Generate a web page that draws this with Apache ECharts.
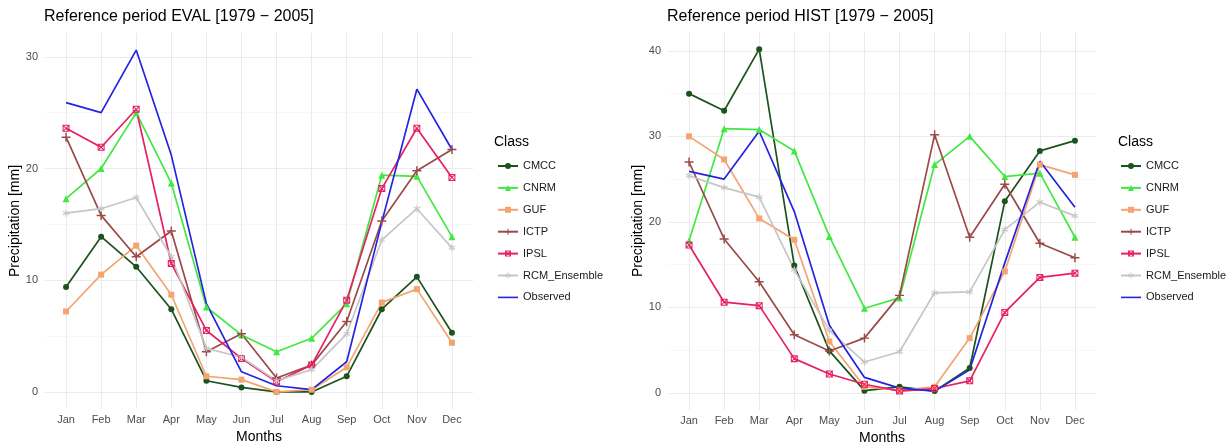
<!DOCTYPE html>
<html>
<head>
<meta charset="utf-8">
<script src="https://cdn.jsdelivr.net/npm/echarts@6/dist/echarts.min.js"></script>
<style>
html,body{margin:0;padding:0;background:#fff;}
#chart{width:1231px;height:444px;}
</style>
</head>
<body>
<div id="chart"></div>
<script>
// ---- data ----
const months = ['Jan','Feb','Mar','Apr','May','Jun','Jul','Aug','Sep','Oct','Nov','Dec'];
const classNames = ['CMCC','CNRM','GUF','ICTP','IPSL','RCM_Ensemble','Observed'];

const observed = [25.9,25.0,30.6,21.2,7.9,1.8,0.55,0.2,2.7,15.2,27.1,21.7];

const evalCMCC = [9.4,13.9,11.2,7.4,1.0,0.4,0.0,0.0,1.4,7.4,10.3,5.3];
const evalCNRM = [17.3,20.0,25.0,18.7,7.6,5.1,3.6,4.8,7.9,19.4,19.3,13.9];
const evalGUF  = [7.2,10.5,13.1,8.7,1.4,1.1,0.0,0.2,2.2,8.0,9.2,4.4];
const evalICTP = [22.8,15.8,12.1,14.4,3.6,5.2,1.25,2.4,6.3,15.3,19.8,21.7];
const evalIPSL = [23.6,21.9,25.3,11.5,5.5,3.0,0.9,2.4,8.2,18.2,23.6,19.2];
const evalRCM  = [16.0,16.4,17.4,12.1,3.9,3.1,1.0,2.0,5.2,13.6,16.4,12.9];

const histCMCC = [35.0,33.0,40.2,14.9,4.9,0.25,0.7,0.2,2.9,22.4,28.3,29.5];
const histCNRM = [17.8,30.9,30.8,28.3,18.3,9.9,11.1,26.7,30.0,25.3,25.7,18.2];
const histGUF  = [30.0,27.3,20.4,17.9,6.0,0.7,0.3,0.7,6.4,14.2,26.7,25.5];
const histICTP = [27.0,18.0,13.0,6.8,4.9,6.4,11.4,30.2,18.2,24.4,17.5,15.8];
const histIPSL = [17.3,10.6,10.2,4.0,2.2,1.0,0.2,0.5,1.4,9.4,13.5,14.0];
const histRCM  = [25.4,24.0,22.9,14.4,7.3,3.6,4.8,11.7,11.8,19.1,22.3,20.7];

const evalTicks = [0,10,20,30];
const evalMinor = [5,15,25];
const histTicks = [0,10,20,30,40];
const histMinor = [5,15,25,35];

// ---- styles ----
const FONT = '"Liberation Sans", Arial, Helvetica, sans-serif';
const PLUS = 'path://M4.2,0 L5.8,0 L5.8,4.2 L10,4.2 L10,5.8 L5.8,5.8 L5.8,10 L4.2,10 L4.2,5.8 L0,5.8 L0,4.2 L4.2,4.2 Z';
const SQX = 'path://M0,0 L10,0 L10,10 L0,10 Z M1.5,1.5 L1.5,8.5 L8.5,8.5 L8.5,1.5 Z M1,2 L2,1 L9,8 L8,9 Z M8,1 L9,2 L2,9 L1,8 Z';
const ASTER = 'path://M4.3,0 L5.7,0 L5.7,3.6 L9,2 L9.6,3.3 L6.4,5 L9.6,6.7 L9,8 L5.7,6.4 L5.7,10 L4.3,10 L4.3,6.4 L1,8 L0.4,6.7 L3.6,5 L0.4,3.3 L1,2 L4.3,3.6 Z';
const LINEICON = 'path://M0,0 L20,0 L20,1.6 L0,1.6 Z';
const styles = {
  CMCC:         {color:'#1c521c', symbol:'circle',   size:6},
  CNRM:         {color:'#42e842', symbol:'triangle', size:7},
  GUF:          {color:'#f4a470', symbol:'rect',     size:6},
  ICTP:         {color:'#9a4a48', symbol:PLUS,       size:9},
  IPSL:         {color:'#e81f62', symbol:SQX,        size:7},
  RCM_Ensemble: {color:'#c6c6c6', symbol:ASTER,      size:7},
  Observed:     {color:'#2424e0', symbol:'none',     size:0}
};

const evalData = {CMCC:evalCMCC, CNRM:evalCNRM, GUF:evalGUF, ICTP:evalICTP, IPSL:evalIPSL, RCM_Ensemble:evalRCM, Observed:observed};
const histData = {CMCC:histCMCC, CNRM:histCNRM, GUF:histGUF, ICTP:histICTP, IPSL:histIPSL, RCM_Ensemble:histRCM, Observed:observed};

function makeSeries(dataMap, gridIdx) {
  return classNames.map(name => {
    const st = styles[name];
    return {
      name: name,
      type: 'line',
      xAxisIndex: gridIdx,
      yAxisIndex: gridIdx * 2,
      data: dataMap[name].map((v, i) => [i, v]),
      symbol: st.symbol,
      symbolSize: st.size,
      showSymbol: st.symbol !== 'none',
      lineStyle: {color: st.color, width: 1.7},
      itemStyle: {color: st.color},
      emphasis: {disabled: true},
      animation: false
    };
  });
}

const monthIdx = months.map((m, i) => i);

function xAxis(gridIdx) {
  return {
    type: 'value', gridIndex: gridIdx, min: -0.6, max: 11.6,
    name: 'Months', nameLocation: 'middle', nameGap: 16,
    nameTextStyle: {fontFamily: FONT, fontSize: 14, color: '#000'},
    axisLine: {show: false},
    axisTick: {show: false, customValues: monthIdx},
    axisLabel: {customValues: monthIdx, formatter: v => months[v], fontFamily: FONT, fontSize: 11, color: '#4d4d4d', margin: 5},
    splitLine: {show: true, lineStyle: {color: '#ebebeb', width: 1}}
  };
}
function yAxes(gridIdx, lo, hi, ticks, minor) {
  return [{
    type: 'value', gridIndex: gridIdx, min: lo, max: hi,
    name: 'Precipitation [mm]', nameLocation: 'middle', nameGap: 23,
    nameTextStyle: {fontFamily: FONT, fontSize: 14, color: '#000'},
    axisLine: {show: false},
    axisTick: {show: false, customValues: ticks},
    axisLabel: {customValues: ticks, fontFamily: FONT, fontSize: 11, color: '#4d4d4d', margin: 7},
    splitLine: {show: true, lineStyle: {color: '#ebebeb', width: 1}}
  }, {
    type: 'value', gridIndex: gridIdx, min: lo, max: hi, position: 'left',
    axisLine: {show: false},
    axisTick: {show: false, customValues: minor},
    axisLabel: {show: false, customValues: minor},
    splitLine: {show: true, lineStyle: {color: '#f4f4f4', width: 0.6}}
  }];
}

function legend(left) {
  return {
    orient: 'vertical', left: left, top: 160.5, padding: 0,
    itemWidth: 20, itemHeight: 7.5, itemGap: 10.9,
    data: classNames.map(n => n === 'Observed' ? {name: n, icon: LINEICON} : n),
    symbolKeepAspect: true,
    textStyle: {fontFamily: FONT, fontSize: 11, color: '#1a1a1a'},
    selectedMode: false
  };
}

const chart = echarts.init(document.getElementById('chart'), null, {renderer: 'canvas'});
chart.setOption({
  backgroundColor: '#fff',
  animation: false,
  title: [
    {text: 'Reference period EVAL [1979 \u2212 2005]', left: 44, top: 9, padding: 0,
     textStyle: {fontFamily: FONT, fontSize: 16, fontWeight: 'normal', color: '#000'}},
    {text: 'Reference period HIST [1979 \u2212 2005]', left: 667, top: 9, padding: 0,
     textStyle: {fontFamily: FONT, fontSize: 16, fontWeight: 'normal', color: '#000'}},
    {text: 'Class', left: 494, top: 135, padding: 0,
     textStyle: {fontFamily: FONT, fontSize: 14, fontWeight: 'normal', color: '#000'}},
    {text: 'Class', left: 1118, top: 135, padding: 0,
     textStyle: {fontFamily: FONT, fontSize: 14, fontWeight: 'normal', color: '#000'}}
  ],
  legend: [legend(497), legend(1120)],
  grid: [
    {left: 45, top: 33, width: 428, height: 376, outerBoundsMode: 'none', containLabel: false},
    {left: 668, top: 32, width: 428, height: 378, outerBoundsMode: 'none', containLabel: false}
  ],
  xAxis: [xAxis(0), xAxis(1)],
  yAxis: [...yAxes(0, -1.53, 32.13, evalTicks, evalMinor), ...yAxes(1, -2.01, 42.21, histTicks, histMinor)],
  series: [...makeSeries(evalData, 0), ...makeSeries(histData, 1)]
});
</script>
</body>
</html>
